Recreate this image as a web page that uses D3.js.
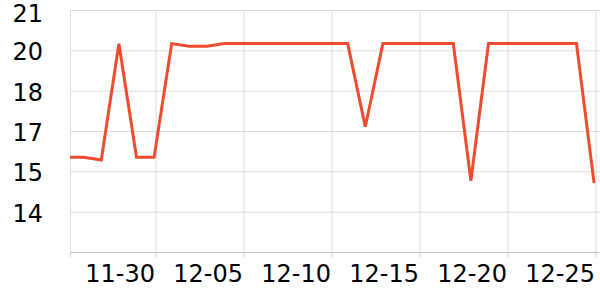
<!DOCTYPE html>
<html>
<head>
<meta charset="utf-8">
<script src="https://cdn.jsdelivr.net/npm/d3@7"></script>
<style>
  body { margin: 0; background: #fff; }
  svg { display: block; }
</style>
</head>
<body>
<svg></svg>
<script>
const width = 600;
const height = 300;

// readings, one per day (taken late in the evening)
const dates = [
  "2023-11-24T22:00", "2023-11-25T22:00", "2023-11-26T22:00", "2023-11-27T22:00",
  "2023-11-28T22:00", "2023-11-29T22:00", "2023-11-30T22:00", "2023-12-01T22:00",
  "2023-12-02T22:00", "2023-12-03T22:00", "2023-12-04T22:00", "2023-12-05T22:00",
  "2023-12-06T22:00", "2023-12-07T22:00", "2023-12-08T22:00", "2023-12-09T22:00",
  "2023-12-10T22:00", "2023-12-11T22:00", "2023-12-12T22:00", "2023-12-13T22:00",
  "2023-12-14T22:00", "2023-12-15T22:00", "2023-12-16T22:00", "2023-12-17T22:00",
  "2023-12-18T22:00", "2023-12-19T22:00", "2023-12-20T22:00", "2023-12-21T22:00",
  "2023-12-22T22:00", "2023-12-23T22:00", "2023-12-24T22:00"
];
const values = [
  15.52, 15.52, 15.42, 19.75, 15.52, 15.52, 19.75, 19.65,
  19.65, 19.75, 19.75, 19.75, 19.75, 19.75, 19.75, 19.75,
  19.75, 16.66, 19.75, 19.75, 19.75, 19.75, 19.75, 14.65,
  19.75, 19.75, 19.75, 19.75, 19.75, 19.75, 14.56
];

const xDomain = ["2023-11-25T03:20", "2023-12-25T03:20"];
const xTicks = ["2023-11-30", "2023-12-05", "2023-12-10", "2023-12-15", "2023-12-20", "2023-12-25"];
const yTicks = [12, 13.5, 15, 16.5, 18, 19.5, 21];

const FONT = "DejaVu Sans";

const parse = d3.timeParse("%Y-%m-%dT%H:%M");
const parseDay = d3.timeParse("%Y-%m-%d");
const data = dates.map((d, i) => ({ date: parse(d), value: values[i] }));

const margin = { top: 10, right: 2, bottom: 48, left: 70 };
const innerW = width - margin.left - margin.right;
const innerH = height - margin.top - margin.bottom;

const svg = d3.select("svg")
  .attr("width", width)
  .attr("height", height);

const g = svg.append("g")
  .attr("transform", `translate(${margin.left},${margin.top})`);

const x = d3.scaleTime()
  .domain(xDomain.map(parse))
  .range([0, innerW]);

const y = d3.scaleLinear()
  .domain([12, 21])
  .range([innerH, 0]);

/* horizontal grid + y labels */
const yAxis = g.append("g")
  .call(d3.axisLeft(y)
    .tickValues(yTicks)
    .tickSize(-innerW - 2)
    .tickPadding(27)
    .tickFormat(d => d === 12 ? "" : Math.round(d)))
  .attr("font-family", FONT)
  .attr("font-size", 24);
yAxis.select(".domain").remove();
yAxis.selectAll(".tick line").attr("stroke", "#dcdcdc").attr("x1", 0);
yAxis.selectAll(".tick text")
  .attr("fill", "#000")
  .attr("dy", "0.36em")
  // top label is pushed down so it stays inside the picture
  .attr("y", d => d === 21 ? 3 : 1);

/* vertical grid at the left edge */
g.append("line")
  .attr("x1", 0.5).attr("x2", 0.5)
  .attr("y1", 0).attr("y2", innerH)
  .attr("stroke", "#dcdcdc");

const xAxis = g.append("g")
  .attr("transform", `translate(0,${innerH})`)
  .call(d3.axisBottom(x)
    .tickValues(xTicks.map(parseDay))
    .tickSize(5)
    .tickFormat(d3.timeFormat("%m-%d")))
  .attr("font-family", FONT)
  .attr("font-size", 24);
xAxis.select(".domain").attr("stroke", "#bdbdbd").attr("d", `M0,0.5H${innerW}`);
xAxis.selectAll(".tick line").attr("stroke", "#cfcfcf");
xAxis.selectAll(".tick")
  .append("line")
  .attr("y1", -innerH).attr("y2", 0)
  .attr("stroke", "#dcdcdc");
xAxis.selectAll(".tick text")
  .attr("fill", "#000")
  .attr("text-anchor", "end")
  .attr("x", -1)
  .attr("y", 13)
  .attr("dy", "0.71em");

/* extra tick at the axis origin */
xAxis.append("line")
  .attr("x1", 0.5).attr("x2", 0.5)
  .attr("y1", 0).attr("y2", 5)
  .attr("stroke", "#cfcfcf");

/* line */
svg.append("clipPath").attr("id", "plot-clip")
  .append("rect")
  .attr("x", 0).attr("y", -10)
  .attr("width", innerW + 2).attr("height", innerH + 20);

g.append("path")
  .datum(data)
  .attr("clip-path", "url(#plot-clip)")
  .attr("fill", "none")
  .attr("stroke", "#f04b2e")
  .attr("stroke-width", 3)
  .attr("stroke-linejoin", "miter")
  .attr("d", d3.line()
    .x(d => x(d.date))
    .y(d => y(d.value)));
</script>
</body>
</html>
